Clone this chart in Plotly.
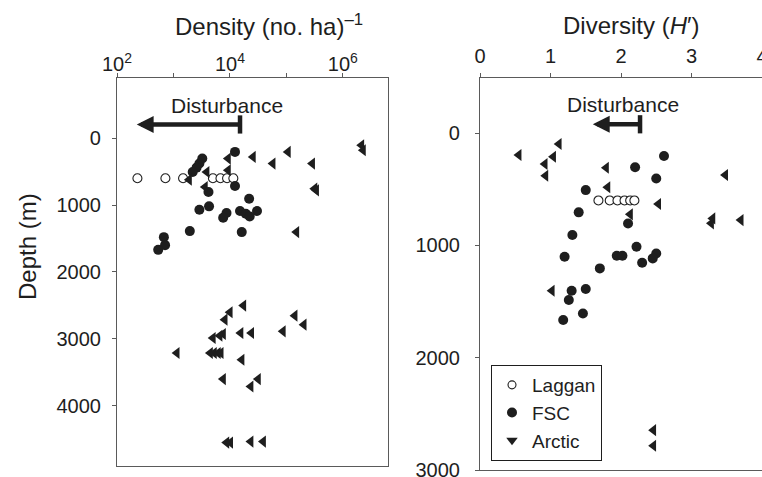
import math
import plotly.graph_objects as go

# ---------------- data ----------------
# Left panel: density (no. ha^-1) vs depth (m)
laggan_dens = [230, 720, 1480, 5000, 6800, 8900, 11500]
laggan_dens_depth = [600, 600, 600, 600, 600, 600, 600]

fsc_dens = [12300, 3240, 2880, 2570, 2190, 12300, 4170, 21900, 4270, 2880, 8710,
            7590, 15100, 19100, 22400, 30200, 1950, 16200, 676, 710, 537]
fsc_dens_depth = [205, 305, 380, 440, 505, 715, 805, 905, 1020, 1070, 1120,
                  1190, 1090, 1130, 1170, 1090, 1390, 1405, 1480, 1600, 1670]

arctic_dens = [9300, 25700, 57500, 107000, 288000, 2140000, 2290000, 9300, 1900,
               3890, 3630, 316000, 339000, 151000,
               17400, 10000, 8130, 141000, 204000, 87100, 24000, 15500, 7590,
               6610, 5010, 1150, 4470, 5250, 6170, 6920, 16200, 7590, 31600,
               23400, 8710, 10200, 23400, 38900]
arctic_dens_depth = [305, 280, 380, 205, 380, 105, 180, 480, 620,
                     505, 730, 755, 780, 1405,
                     2504, 2604, 2714, 2654, 2789, 2889, 2914, 2914, 2929,
                     2954, 2989, 3213, 3213, 3213, 3213, 3213, 3313, 3603, 3603,
                     3714, 4553, 4553, 4538, 4538]

# Right panel: diversity (H') vs depth (m)
laggan_div = [1.68, 1.84, 1.95, 2.05, 2.13, 2.19]
laggan_div_depth = [600, 600, 600, 600, 600, 600]

fsc_div = [2.61, 2.20, 2.50, 1.50, 1.40, 2.10, 1.31, 2.22, 1.20, 1.94, 2.02,
           2.50, 2.45, 2.30, 1.70, 1.30, 1.50, 1.26, 1.46, 1.18]
fsc_div_depth = [205, 305, 405, 508, 706, 805, 908, 1012, 1101, 1092, 1092,
                 1072, 1116, 1155, 1205, 1404, 1389, 1487, 1606, 1665]

arctic_div = [1.12, 0.55, 1.04, 0.92, 0.93, 1.79, 1.81, 3.48, 2.53, 2.13, 3.30,
              3.28, 3.70, 1.02, 2.46, 2.46]
arctic_div_depth = [98, 196, 211, 276, 380, 309, 483, 374, 632, 724, 760,
                    804, 775, 1404, 2645, 2784]

# Disturbance arrows (tip, tail, depth) in each panel's data units
dist_left_density = [224, 15100]      # tip, tail
dist_left_depth = -205
dist_right_div = [1.60, 2.27]         # tip, tail
dist_right_depth = -78

left_xticks = [1e2, 1e3, 1e4, 1e5, 1e6]
left_xticktext = ['10<sup>2</sup>', '', '10<sup>4</sup>', '', '10<sup>6</sup>']
left_yticks = [0, 1000, 2000, 3000, 4000]
right_xticks = [0, 1, 2, 3, 4]
right_yticks = [0, 1000, 2000, 3000]

# ---------------- style ----------------
W, H = 762, 477
INK = '#1e1e1e'
AX = '#5a5a5a'
FONT = 'Liberation Sans, Arial, Helvetica, sans-serif'

def px_x(p):
    return p / W

def px_y(p):
    return 1 - p / H

fig = go.Figure()

fill_m = dict(symbol='circle', size=10, color=INK, line=dict(width=0))
tri_m = dict(symbol='triangle-left', size=10.5, color=INK, line=dict(width=0))
open_m = dict(symbol='circle', size=9, color='white', line=dict(width=1.1, color=INK))

# left panel
fig.add_trace(go.Scatter(x=laggan_dens, y=laggan_dens_depth, mode='markers', marker=open_m,
                         showlegend=False, xaxis='x', yaxis='y'))
fig.add_trace(go.Scatter(x=fsc_dens, y=fsc_dens_depth, mode='markers', marker=fill_m,
                         showlegend=False, xaxis='x', yaxis='y'))
fig.add_trace(go.Scatter(x=arctic_dens, y=arctic_dens_depth, mode='markers', marker=tri_m,
                         showlegend=False, xaxis='x', yaxis='y'))
# right panel
fig.add_trace(go.Scatter(x=laggan_div, y=laggan_div_depth, mode='markers', marker=open_m,
                         showlegend=False, xaxis='x2', yaxis='y2'))
fig.add_trace(go.Scatter(x=fsc_div, y=fsc_div_depth, mode='markers', marker=fill_m,
                         showlegend=False, xaxis='x2', yaxis='y2'))
fig.add_trace(go.Scatter(x=arctic_div, y=arctic_div_depth, mode='markers', marker=tri_m,
                         showlegend=False, xaxis='x2', yaxis='y2'))

# arrow end caps
fig.add_trace(go.Scatter(x=[dist_left_density[1]], y=[dist_left_depth], mode='markers',
                         marker=dict(symbol='line-ns', size=13, line=dict(width=4.5, color=INK)),
                         showlegend=False, xaxis='x', yaxis='y'))
fig.add_trace(go.Scatter(x=[dist_right_div[1]], y=[dist_right_depth], mode='markers',
                         marker=dict(symbol='line-ns', size=13, line=dict(width=4.5, color=INK)),
                         showlegend=False, xaxis='x2', yaxis='y2'))

# legend-only entries
fig.add_trace(go.Scatter(x=[None], y=[None], mode='markers', name='Laggan',
                         marker=dict(symbol='circle', size=8, color='white',
                                     line=dict(width=1.1, color=INK)),
                         xaxis='x2', yaxis='y2'))
fig.add_trace(go.Scatter(x=[None], y=[None], mode='markers', name='FSC',
                         marker=dict(symbol='circle', size=10, color=INK),
                         xaxis='x2', yaxis='y2'))
fig.add_trace(go.Scatter(x=[None], y=[None], mode='markers', name='Arctic',
                         marker=dict(symbol='triangle-down', size=10, color=INK),
                         xaxis='x2', yaxis='y2'))

axis_common = dict(showgrid=False, zeroline=False, showline=True, linecolor=AX,
                   linewidth=1.2, ticks='outside', ticklen=4, tickwidth=1.2,
                   tickcolor=AX, automargin=False, ticklabeloverflow='allow',
                   tickfont=dict(size=20, color=INK, family=FONT))

top0, bot_l, bot_r = 78, 466, 470
fig.update_layout(
    template='none',
    width=W, height=H,
    margin=dict(l=0, r=0, t=0, b=0, pad=0),
    paper_bgcolor='white', plot_bgcolor='white',
    font=dict(family=FONT, color=INK),
    xaxis=dict(type='log', side='top', range=[2, 6.8], domain=[px_x(117), px_x(388)],
               tickvals=left_xticks, ticktext=left_xticktext, mirror=True,
               anchor='y', ticklabelstandoff=-6, **axis_common),
    yaxis=dict(range=[4903, -900], domain=[px_y(bot_l), px_y(top0)],
               tickvals=left_yticks, mirror=True, anchor='x', ticklabelstandoff=7,
               **axis_common),
    xaxis2=dict(side='top', range=[0, 4], domain=[px_x(480), 1.0],
                tickvals=right_xticks, mirror=True, anchor='y2', ticklabelstandoff=2,
                **axis_common),
    yaxis2=dict(range=[3000, -490], domain=[px_y(bot_r), px_y(top0)],
                tickvals=right_yticks, anchor='x2', ticklabelstandoff=11, **axis_common),
    legend=dict(x=px_x(491), y=px_y(461), xanchor='left', yanchor='bottom',
                bordercolor=INK, borderwidth=1, bgcolor='white',
                font=dict(size=19, color=INK, family=FONT), tracegroupgap=0,
                itemwidth=30),
    showlegend=True,
)

ann = []
ann.append(dict(text='Density (no. ha)<sup>–1</sup>', x=px_x(269), y=px_y(25),
                xref='paper', yref='paper', xanchor='center', yanchor='middle',
                showarrow=False, font=dict(size=24, color=INK, family=FONT)))
ann.append(dict(text='Diversity (<i>H</i>′)', x=px_x(631), y=px_y(25),
                xref='paper', yref='paper', xanchor='center', yanchor='middle',
                showarrow=False, font=dict(size=24, color=INK, family=FONT)))
ann.append(dict(text='Depth (m)', x=px_x(27), y=px_y(247), xref='paper', yref='paper',
                xanchor='center', yanchor='middle',
                textangle=-90, showarrow=False, font=dict(size=24, color=INK, family=FONT)))
ann.append(dict(text='Disturbance', x=math.log10(9000), y=-495, xref='x', yref='y',
                showarrow=False, font=dict(size=21, color=INK, family=FONT)))
ann.append(dict(text='Disturbance', x=2.03, y=-250, xref='x2', yref='y2',
                showarrow=False, font=dict(size=21, color=INK, family=FONT)))
ann.append(dict(text='', x=math.log10(dist_left_density[0]), y=dist_left_depth,
                ax=math.log10(dist_left_density[1]), ay=dist_left_depth,
                xref='x', yref='y', axref='x', ayref='y', showarrow=True,
                arrowhead=2, arrowsize=0.75, arrowwidth=4.5, arrowcolor=INK, standoff=0))
ann.append(dict(text='', x=dist_right_div[0], y=dist_right_depth,
                ax=dist_right_div[1], ay=dist_right_depth,
                xref='x2', yref='y2', axref='x2', ayref='y2', showarrow=True,
                arrowhead=2, arrowsize=0.75, arrowwidth=4.5, arrowcolor=INK, standoff=0))
fig.update_layout(annotations=ann)

fig.write_html('out.html')
